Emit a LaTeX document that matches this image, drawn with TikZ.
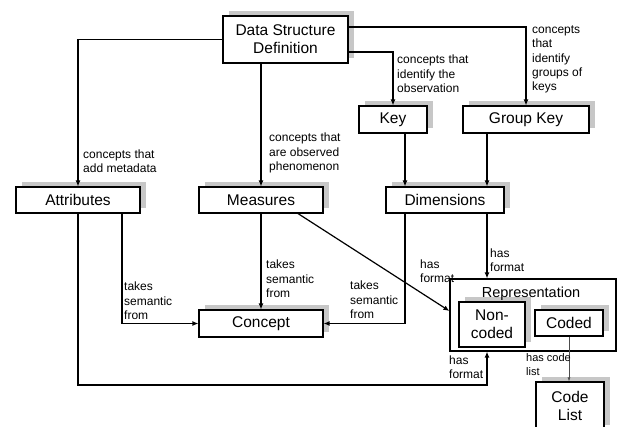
\documentclass[tikz,border=0pt]{standalone}
\usepackage{fontspec}
\setmainfont{Liberation Sans}
\usetikzlibrary{arrows.meta,shadows,calc}
\begin{document}
\begin{tikzpicture}[x=1pt,y=-1pt,
 box/.style={draw,line width=1.1pt,fill=white,inner sep=0,align=center,
   font=\fontsize{15.5}{18}\selectfont,
   general shadow={fill=black!22,shadow xshift=6pt,shadow yshift=5pt}},
 lbl/.style={inner sep=0,anchor=west,align=left,font=\fontsize{12}{14.3}\selectfont},
 arr/.style={line width=1.2pt,-{Latex[length=6pt,width=5pt]}},
 thinarr/.style={line width=0.6pt,black!70,-{Latex[length=4pt,width=3pt]}}]
\useasboundingbox (0,0) rectangle (617,426);
% boxes
\node[box,minimum width=125pt,minimum height=47pt] (dsd) at (285.5,39.5) {Data Structure\\Definition};
\node[box,minimum width=124pt,minimum height=26pt] (attr) at (78,200) {Attributes};
\node[box,minimum width=124pt,minimum height=26pt] (meas) at (261,200) {Measures};
\node[box,minimum width=68pt,minimum height=27pt] (key) at (393,119.5) {Key};
\node[box,minimum width=126pt,minimum height=27pt] (gkey) at (526,119.5) {Group Key};
\node[box,minimum width=118pt,minimum height=26pt] (dim) at (445,200) {Dimensions};
\node[box,minimum width=124pt,minimum height=27pt] (concept) at (261,323.5) {Concept};
\node[draw,line width=1.1pt,minimum width=166pt,minimum height=72pt,inner sep=0] (rep) at (533,315) {};
\node[box,minimum width=66pt,minimum height=45pt] (noncoded) at (492,324.5) {Non-\\coded};
\node[box,minimum width=68pt,minimum height=26pt] (coded) at (569,323) {Coded};
\node[box,minimum width=68pt,minimum height=48pt] (codelist) at (570,406) {Code\\List};
\node[font=\fontsize{14.5}{17}\selectfont,inner sep=0] (reptitle) at (531,294) {Representation};
% connectors
\draw[arr] (dsd.west) -| (attr.north);
\draw[arr] (dsd.south -| meas.north) -- (meas.north);
\draw[arr] (dsd.east |- 0,52) -| (key.north);
\draw[arr] (dsd.east |- 0,27) -| (gkey.north);
\draw[arr] (key.south -| 405,0) -- (dim.north -| 405,0);
\draw[arr] (gkey.south -| 487,0) -- (dim.north -| 487,0);
\draw[arr] (attr.south) -- (attr.south |- 0,385) -| (rep.south -| 487,0);
\draw[arr] (attr.south -| 122,0) |- (concept.west);
\draw[arr] (meas.south) -- (concept.north);
\draw[arr] (meas.south -| 298,0) -- (rep.west |- 0,311);
\draw[arr] (dim.south -| 405,0) |- (concept.east);
\draw[arr] (dim.south -| 487,0) -- (rep.north -| 487,0);
\draw[thinarr] (coded.south) -- (coded.south |- codelist.north);
% labels
\node[lbl] (l1) at (83,161) {concepts that\\add metadata};
\node[lbl] (l2) at (269,153) {concepts that\\are observed\\phenomenon};
\node[lbl] (l3) at (397,74) {concepts that\\identify the\\observation};
\node[lbl] (l4) at (532,59.5) {concepts\\that\\identify\\groups of\\keys};
\node[lbl] (l5) at (124,301) {takes\\semantic\\from};
\node[lbl] (l6) at (266,279) {takes\\semantic\\from};
\node[lbl] (l7) at (350,300) {takes\\semantic\\from};
\node[lbl] (l8) at (490,260) {has\\format};
\node[lbl] (l9) at (420,271.5) {has\\format};
\node[lbl] (l10) at (449,367) {has\\format};
\node[lbl,font=\fontsize{11}{14}\selectfont] (l11) at (526,364.5) {has code\\list};
\end{tikzpicture}
\end{document}
